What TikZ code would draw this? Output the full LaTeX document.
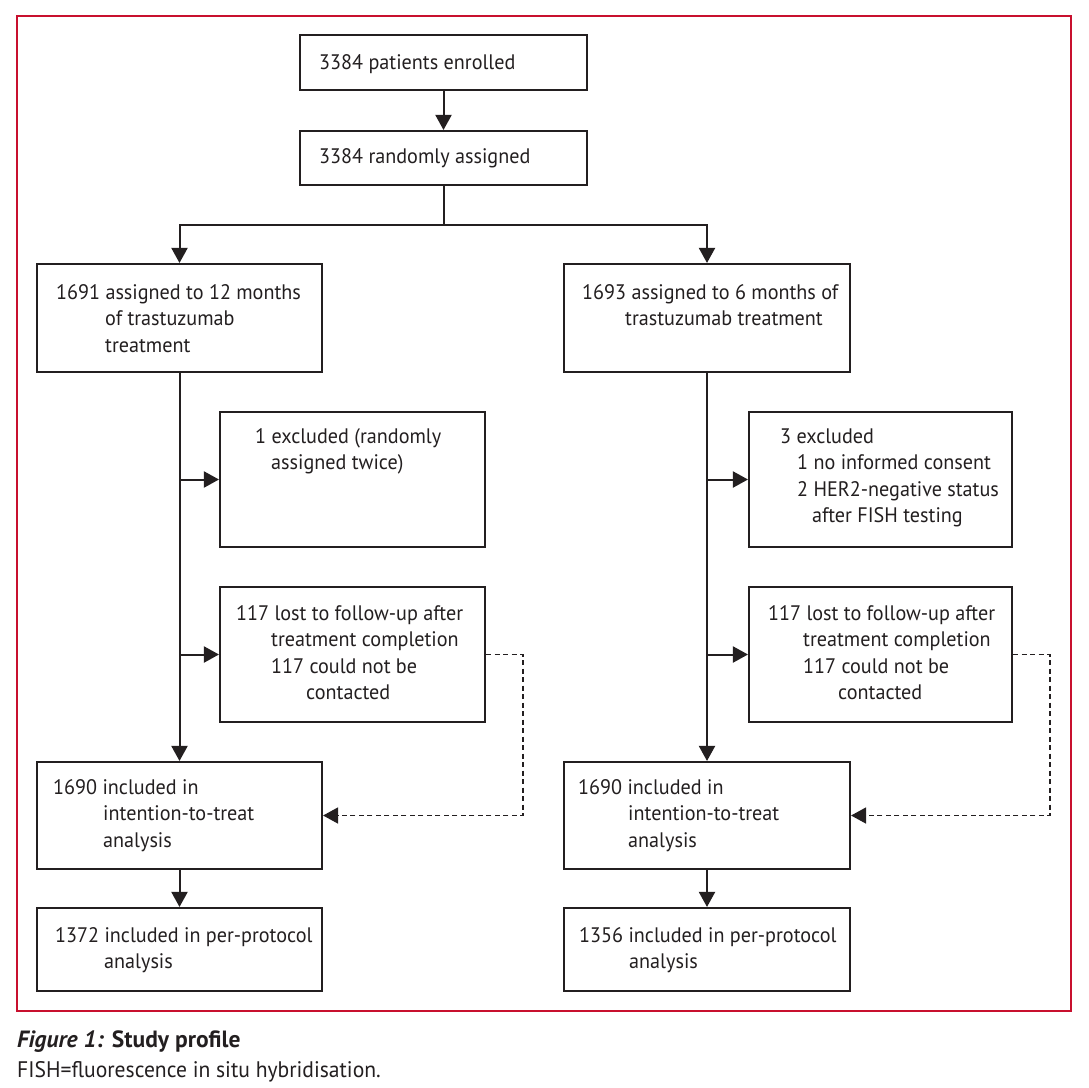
\documentclass[tikz,border=0pt]{standalone}
\usepackage{fontspec}
\setmainfont[FakeStretch=0.96]{PT Sans}
\newfontfamily\capbold[FakeStretch=1.0]{PT Sans}
\usetikzlibrary{arrows.meta}
\definecolor{framecol}{RGB}{200,16,46}
\definecolor{ink}{RGB}{35,31,32}
\begin{document}
\begin{tikzpicture}[x=1pt,y=-1pt,
  box/.style={draw=ink, line width=2.1pt, inner sep=0pt, fill=white},
  txt/.style={anchor=base west, inner sep=0pt, text=ink, font=\fontsize{21}{26.5}\selectfont},
  conn/.style={draw=ink, line width=2pt},
  arr/.style={conn, -{Triangle[length=15pt,width=16pt]}},
  darr/.style={draw=ink, line width=1.5pt, dash pattern=on 5pt off 3.5pt, -{Triangle[length=15pt,width=16pt]}}
]
\useasboundingbox (0,0) rectangle (1089,1087);
\fill[white] (0,0) rectangle (1089,1087);
\draw[framecol, line width=1.2pt] (17,16) rectangle (1071,1011);

% boxes
\node[box, minimum width=287pt, minimum height=55pt] (enr) at (443.5,62.5) {};
\node[box, minimum width=287pt, minimum height=54pt] (rand) at (443.5,158) {};
\node[box, minimum width=285pt, minimum height=108pt] (A) at (179.5,318) {};
\node[box, minimum width=286pt, minimum height=108pt] (B) at (707,318) {};
\node[box, minimum width=265pt, minimum height=135pt] (exL) at (352.5,479.5) {};
\node[box, minimum width=263pt, minimum height=135pt] (exR) at (880.5,479.5) {};
\node[box, minimum width=265pt, minimum height=135pt] (loL) at (352.5,654.5) {};
\node[box, minimum width=263pt, minimum height=135pt] (loR) at (880.5,654.5) {};
\node[box, minimum width=285pt, minimum height=107pt] (itL) at (179.5,815.5) {};
\node[box, minimum width=286pt, minimum height=107pt] (itR) at (707,815.5) {};
\node[box, minimum width=285pt, minimum height=83pt] (ppL) at (179.5,949.5) {};
\node[box, minimum width=286pt, minimum height=83pt] (ppR) at (707,949.5) {};

% texts
\node[txt] (tenr) at (319,69) {3384 patients enrolled};
\node[txt] (trand) at (319,163) {3384 randomly assigned};
\node[txt] (tA) at (56,299) {\begin{tabular}[t]{@{}l@{}}1691 assigned to 12 months\\\hspace*{49pt}of trastuzumab\\\hspace*{49pt}treatment\end{tabular}};
\node[txt] (tB) at (582,299) {\begin{tabular}[t]{@{}l@{}}1693 assigned to 6 months of\\\hspace*{43pt}trastuzumab treatment\end{tabular}};
\node[txt] (texL) at (255,443) {\begin{tabular}[t]{@{}l@{}}1 excluded (randomly\\\hspace*{16pt}assigned twice)\end{tabular}};
\node[txt] (texR) at (780,443) {\begin{tabular}[t]{@{}l@{}}3 excluded\\\hspace*{17pt}1 no informed consent\\\hspace*{17pt}2 HER2-negative status\\\hspace*{32pt}after FISH testing\end{tabular}};
\node[txt] (tloL) at (236,620) {\begin{tabular}[t]{@{}l@{}}117 lost to follow-up after\\\hspace*{35pt}treatment completion\\\hspace*{35pt}117 could not be\\\hspace*{70pt}contacted\end{tabular}};
\node[txt] (tloR) at (768,620) {\begin{tabular}[t]{@{}l@{}}117 lost to follow-up after\\\hspace*{35pt}treatment completion\\\hspace*{35pt}117 could not be\\\hspace*{70pt}contacted\end{tabular}};
\node[txt] (titL) at (53,794) {\begin{tabular}[t]{@{}l@{}}1690 included in\\\hspace*{50pt}intention-to-treat\\\hspace*{50pt}analysis\end{tabular}};
\node[txt] (titR) at (578,794) {\begin{tabular}[t]{@{}l@{}}1690 included in\\\hspace*{50pt}intention-to-treat\\\hspace*{50pt}analysis\end{tabular}};
\node[txt] (tppL) at (55,942) {\begin{tabular}[t]{@{}l@{}}1372 included in per-protocol\\\hspace*{49pt}analysis\end{tabular}};
\node[txt] (tppR) at (579,942) {\begin{tabular}[t]{@{}l@{}}1356 included in per-protocol\\\hspace*{50pt}analysis\end{tabular}};

% connectors
\coordinate (split) at (443.5,225);
\coordinate (dL) at (523,0);
\coordinate (dR) at (1050,0);
\draw[arr] (enr.south) -- (rand.north);
\draw[conn] (rand.south) -- (split);
\draw[arr] (split) -| (A.north);
\draw[arr] (split) -| (B.north);
\draw[arr] (A.south) -- (itL.north);
\draw[arr] (B.south) -- (itR.north);
\draw[arr] (A.south |- exL.west) -- (exL.west);
\draw[arr] (A.south |- loL.west) -- (loL.west);
\draw[arr] (B.south |- exR.west) -- (exR.west);
\draw[arr] (B.south |- loR.west) -- (loR.west);
\draw[arr] (itL.south) -- (ppL.north);
\draw[arr] (itR.south) -- (ppR.north);
\draw[darr] (loL.east) -- (loL.east -| dL) |- (itL.east);
\draw[darr] (loR.east) -- (loR.east -| dR) |- (itR.east);

% caption
\node[anchor=base west, inner sep=0pt, text=ink, font=\capbold\fontsize{23.5}{28}\selectfont\bfseries] (cap1) at (17,1047) {\textit{Figure 1:} Study profile};
\node[anchor=base west, inner sep=0pt, text=ink, font=\fontsize{22.5}{27}\selectfont] (cap2) at (17,1077) {FISH=fluorescence in situ hybridisation.};
\end{tikzpicture}
\end{document}
